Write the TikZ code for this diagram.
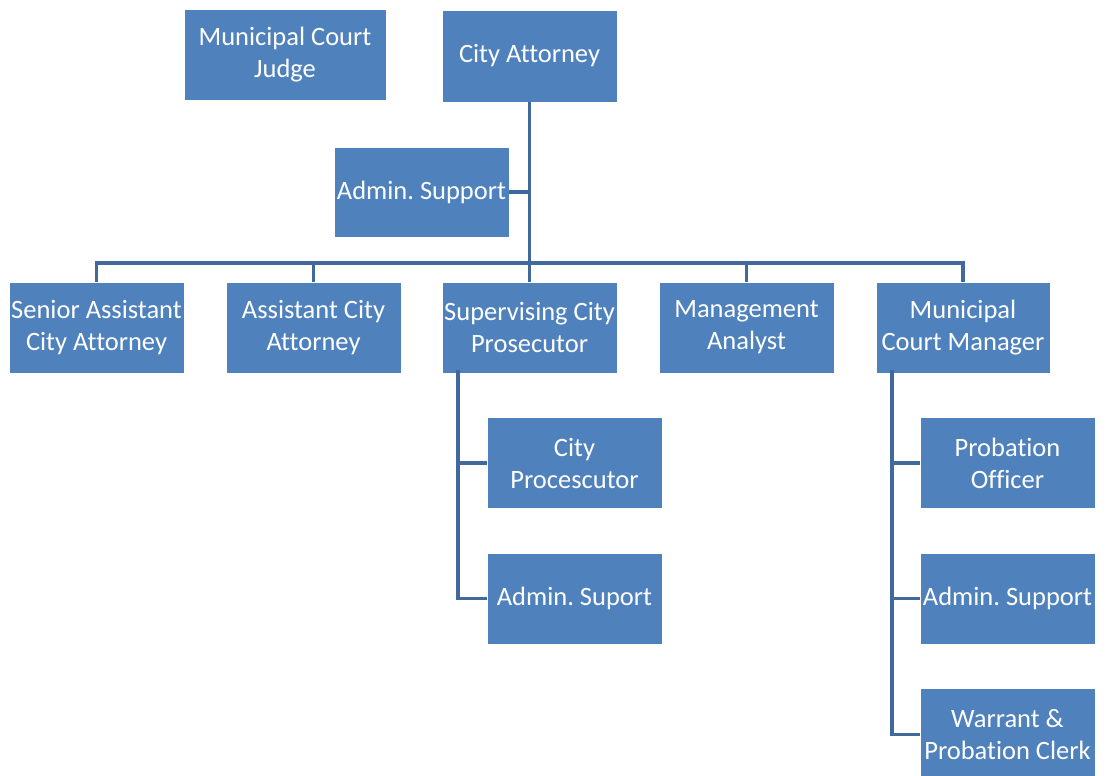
\documentclass[tikz,border=0pt]{standalone}
\usepackage{fontspec}
\setmainfont[Ligatures=NoCommon]{Carlito}
\frenchspacing
\definecolor{boxfill}{HTML}{4F81BD}
\definecolor{linkcol}{HTML}{41699B}
\begin{document}
\begin{tikzpicture}[x=1pt,y=-1pt,
  orgbox/.style={rectangle, fill=boxfill, draw=white, line width=0.6pt,
    minimum width=175pt, minimum height=91pt, inner sep=0pt,
    text=white, align=center,
    font=\fontsize{26.5}{32}\selectfont},
  lbl/.style={yshift=-1.5pt},
  link/.style={draw=linkcol, line width=3.6pt}]
\useasboundingbox (0,0) rectangle (1108,776);

% top row
\node[orgbox, minimum width=202pt] (judge) at (285,55) {Municipal Court\\Judge};
\node[orgbox, minimum height=92pt] (ca) at (529.5,56) {City Attorney};
\node[orgbox, minimum height=90pt] (adm) at (421.5,192) {Admin. Support};

% second tier
\node[orgbox] (sac) at (96.5,327.5) {Senior Assistant\\City Attorney};
\node[orgbox] (aca) at (313.5,327.5) {Assistant City\\Attorney};
\node[orgbox] (scp) at (529.5,327.5) {Supervising City\\Prosecutor};
\node[orgbox] (ma)  at (746.5,327.5) {Management\\Analyst};
\node[orgbox, minimum width=174pt] (mcm) at (963,327.5) {Municipal\\Court Manager};

% prosecutor's staff
\node[orgbox] (cp)  at (574.5,463) {City\\Procescutor};
\node[orgbox] (as1) at (574.5,598.5) {Admin. Suport};

% court manager's staff
\node[orgbox] (po)  at (1007.5,463) {Probation\\Officer};
\node[orgbox] (as2) at (1007.5,598.5) {Admin. Support};
\node[orgbox, minimum height=92pt] (wpc) at (1007.5,734.5) {Warrant \&\\Probation Clerk};

% connectors
\coordinate (bar) at (0,261);
\draw[link] (ca.south) -- (ca.south |- bar);
\draw[link] (adm.east) -- (adm.east -| ca.south);
\draw[link, line cap=rect] ([yshift=-1.8pt]sac.north |- bar) -- ([yshift=-1.8pt]mcm.north |- bar);
\foreach \n in {sac,aca,scp,ma,mcm}
  \draw[link] (\n.north |- bar) -- (\n.north);

\coordinate (tl) at (458,0);
\draw[link] ([yshift=3pt]scp.south -| tl) -- (as1.west -| tl) -- (as1.west);
\draw[link] (cp.west -| tl) -- (cp.west);

\coordinate (tr) at (892,0);
\draw[link] ([yshift=3pt]mcm.south -| tr) -- (wpc.west -| tr) -- (wpc.west);
\draw[link] (po.west -| tr) -- (po.west);
\draw[link] (as2.west -| tr) -- (as2.west);
\end{tikzpicture}
\end{document}
